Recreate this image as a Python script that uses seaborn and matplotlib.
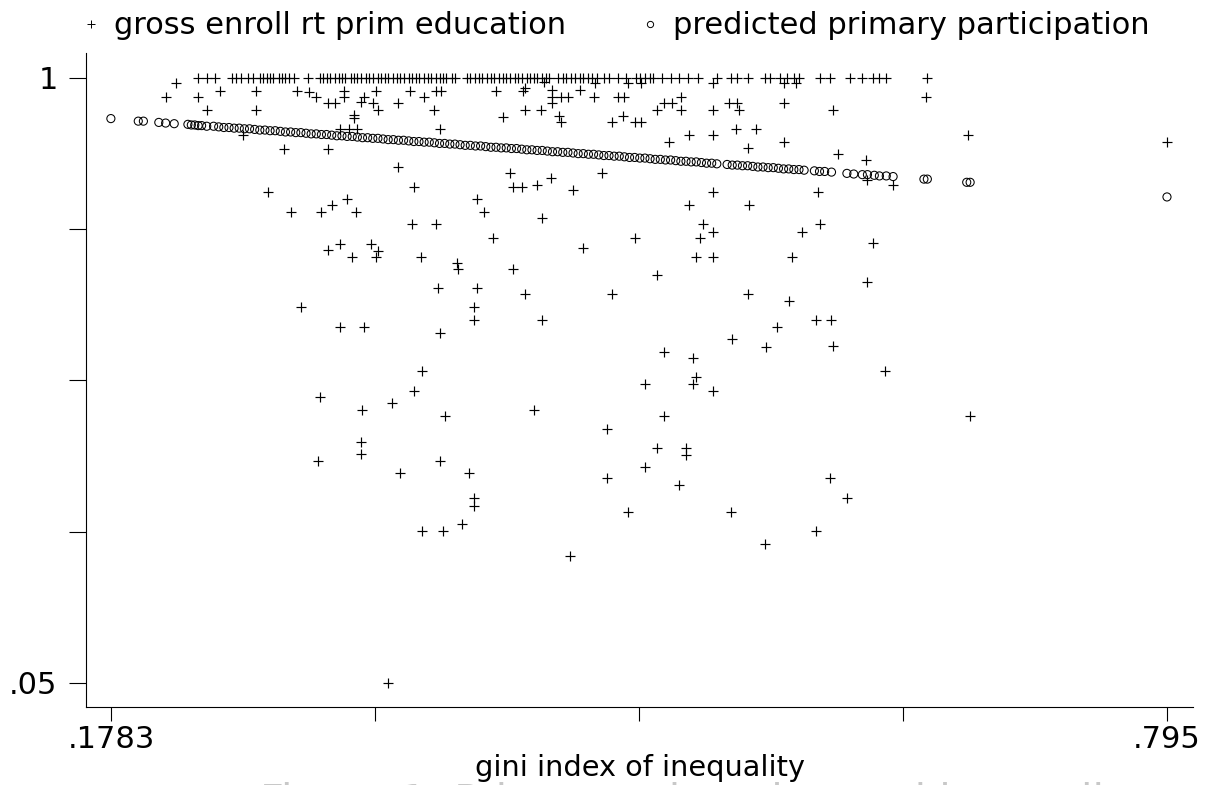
import matplotlib
matplotlib.use('Agg')
import matplotlib.pyplot as plt
from matplotlib.lines import Line2D
import pandas as pd
import seaborn as sns

# gross enrollment rate in primary education (share), below the ceiling
enroll_gini = [
    0.216, 0.210, 0.229, 0.234, 0.242, 0.263, 0.263, 0.287, 0.294, 0.298,
    0.305, 0.309, 0.314, 0.314, 0.320, 0.320, 0.312, 0.317, 0.322, 0.326,
    0.324, 0.333, 0.331, 0.334, 0.346, 0.353, 0.361, 0.368, 0.371, 0.367,
    0.370, 0.403, 0.407, 0.419, 0.420, 0.255, 0.279, 0.305, 0.346, 0.355,
    0.411, 0.413, 0.418, 0.270, 0.283, 0.301, 0.307, 0.316, 0.321, 0.354,
    0.368, 0.392, 0.396, 0.401, 0.305, 0.312, 0.330, 0.334, 0.420, 0.431,
    0.436, 0.436, 0.441, 0.445, 0.436, 0.452, 0.461, 0.460, 0.474, 0.478,
    0.480, 0.488, 0.501, 0.506, 0.511, 0.497, 0.511, 0.530, 0.530, 0.539,
    0.544, 0.545, 0.571, 0.578, 0.571, 0.600, 0.654, 0.429, 0.440, 0.441,
    0.471, 0.477, 0.484, 0.488, 0.504, 0.516, 0.530, 0.543, 0.555, 0.550,
    0.571, 0.603, 0.619, 0.679, 0.620, 0.635, 0.427, 0.435, 0.448, 0.465,
    0.530, 0.516, 0.551, 0.591, 0.430, 0.524, 0.530, 0.522, 0.484, 0.454,
    0.582, 0.592, 0.623, 0.795,
    0.319, 0.333, 0.359, 0.380, 0.381, 0.413, 0.369, 0.392, 0.420, 0.471,
    0.289, 0.390, 0.390, 0.430, 0.312, 0.326, 0.370, 0.360, 0.355, 0.300,
    0.325, 0.342, 0.373, 0.425, 0.468, 0.324, 0.324, 0.299, 0.370, 0.347,
    0.387, 0.468, 0.390, 0.390, 0.480, 0.383, 0.360, 0.372, 0.446,
    0.520, 0.530, 0.576, 0.497, 0.620, 0.550, 0.574, 0.567, 0.590, 0.599,
    0.541, 0.561, 0.600, 0.501, 0.518, 0.630, 0.490, 0.520, 0.518, 0.530,
    0.501, 0.680, 0.497, 0.514, 0.514, 0.490, 0.510, 0.598, 0.608, 0.540,
    0.590, 0.560, 0.340,
]
enroll_rate = [
    0.992, 0.970, 0.970, 0.950, 0.980, 0.980, 0.950, 0.980, 0.977, 0.970,
    0.961, 0.961, 0.980, 0.970, 0.942, 0.937, 0.920, 0.920, 0.920, 0.970,
    0.962, 0.980, 0.961, 0.950, 0.961, 0.980, 0.970, 0.980, 0.980, 0.950,
    0.920, 0.980, 0.939, 0.980, 0.950, 0.911, 0.889, 0.889, 0.860, 0.829,
    0.851, 0.829, 0.829, 0.820, 0.790, 0.790, 0.801, 0.810, 0.790, 0.771,
    0.771, 0.810, 0.790, 0.749, 0.730, 0.739, 0.739, 0.728, 0.984, 0.994,
    0.981, 0.970, 0.970, 0.970, 0.961, 0.981, 0.992, 0.970, 0.970, 0.970,
    0.992, 0.992, 0.961, 0.961, 0.970, 0.950, 0.950, 0.992, 0.950, 0.961,
    0.961, 0.950, 0.992, 0.992, 0.961, 0.950, 0.970, 0.950, 0.940, 0.931,
    0.931, 0.940, 0.931, 0.931, 0.900, 0.911, 0.911, 0.920, 0.920, 0.890,
    0.900, 0.881, 0.871, 0.911, 0.840, 0.831, 0.831, 0.842, 0.824, 0.851,
    0.820, 0.801, 0.801, 0.820, 0.780, 0.771, 0.758, 0.749, 0.749, 0.733,
    0.758, 0.771, 0.741, 0.900,
    0.719, 0.719, 0.719, 0.710, 0.700, 0.700, 0.670, 0.670, 0.661, 0.661,
    0.641, 0.641, 0.620, 0.620, 0.609, 0.609, 0.600, 0.540, 0.509, 0.499,
    0.479, 0.490, 0.469, 0.479, 0.449, 0.429, 0.410, 0.399, 0.399, 0.380,
    0.380, 0.371, 0.341, 0.328, 0.319, 0.300, 0.289, 0.289, 0.250,
    0.719, 0.719, 0.719, 0.691, 0.680, 0.661, 0.650, 0.609, 0.620, 0.620,
    0.590, 0.578, 0.579, 0.570, 0.560, 0.540, 0.520, 0.531, 0.520, 0.509,
    0.469, 0.469, 0.419, 0.419, 0.408, 0.389, 0.360, 0.371, 0.341, 0.319,
    0.289, 0.268, 0.050,
]

# countries sitting at the ceiling (rate = 1)
ceiling_gini = [
    0.229, 0.234, 0.239, 0.249, 0.251, 0.254, 0.258, 0.261,
    0.265, 0.267, 0.269, 0.271, 0.273, 0.276, 0.278, 0.280, 0.282, 0.285,
    0.293, 0.300, 0.302, 0.304, 0.306, 0.309, 0.311, 0.313, 0.315, 0.318,
    0.320, 0.322, 0.324, 0.327, 0.329, 0.331, 0.334, 0.336, 0.338, 0.340,
    0.343, 0.345, 0.347, 0.349, 0.352, 0.354, 0.356, 0.358, 0.361, 0.363,
    0.365, 0.368, 0.370, 0.372, 0.374, 0.377, 0.379,
    0.386, 0.388, 0.391, 0.393, 0.395, 0.398, 0.400, 0.402, 0.405, 0.407,
    0.409, 0.411, 0.414, 0.416, 0.418, 0.421, 0.423, 0.425, 0.427, 0.430,
    0.432, 0.434, 0.439, 0.442, 0.444, 0.447, 0.449, 0.452, 0.454, 0.457,
    0.459, 0.462, 0.466, 0.469, 0.474, 0.479, 0.485, 0.487, 0.490, 0.493,
    0.495, 0.500, 0.505, 0.510, 0.515, 0.521, 0.532, 0.540, 0.544, 0.550,
    0.560, 0.563, 0.569, 0.573, 0.577, 0.580, 0.592, 0.598,
    0.610, 0.617, 0.623, 0.627, 0.631, 0.655,
]

# predicted primary participation
pred_gini = [
    0.178, 0.194, 0.197, 0.206, 0.210, 0.215, 0.223, 0.225, 0.227, 0.229,
    0.231, 0.234, 0.238, 0.241, 0.244, 0.247, 0.250, 0.253, 0.256, 0.259,
    0.262, 0.265, 0.268, 0.271, 0.274, 0.277, 0.280, 0.283, 0.286, 0.289,
    0.292, 0.295, 0.298, 0.301, 0.304, 0.307, 0.310, 0.313, 0.316, 0.319,
    0.322, 0.325, 0.328, 0.331, 0.334, 0.337, 0.340, 0.343, 0.346, 0.349,
    0.352, 0.355, 0.358, 0.361, 0.364, 0.367, 0.370, 0.373, 0.376, 0.379,
    0.382, 0.385, 0.388, 0.391, 0.394, 0.397, 0.400, 0.403, 0.406, 0.409,
    0.412, 0.415, 0.418, 0.421, 0.424, 0.427, 0.430, 0.433, 0.436, 0.439,
    0.442, 0.445, 0.448, 0.451, 0.454, 0.457, 0.460, 0.463, 0.466, 0.469,
    0.472, 0.475, 0.478, 0.481, 0.484, 0.487, 0.490, 0.493, 0.496, 0.499,
    0.502, 0.505, 0.508, 0.511, 0.514, 0.517, 0.520, 0.523, 0.526, 0.529,
    0.532, 0.538, 0.541, 0.544, 0.547, 0.550, 0.553, 0.556, 0.559, 0.562,
    0.565, 0.568, 0.571, 0.574, 0.577, 0.580, 0.583, 0.589, 0.592, 0.595,
    0.599, 0.608, 0.612, 0.617, 0.620, 0.624, 0.627, 0.631, 0.635, 0.653,
    0.655, 0.678, 0.680, 0.795,
]
pred_rate = [
    0.936, 0.932, 0.932, 0.930, 0.929, 0.928, 0.927, 0.926, 0.926, 0.925,
    0.925, 0.924, 0.924, 0.923, 0.922, 0.922, 0.921, 0.921, 0.920, 0.920,
    0.919, 0.918, 0.918, 0.917, 0.917, 0.916, 0.915, 0.915, 0.914, 0.914,
    0.913, 0.912, 0.912, 0.911, 0.911, 0.910, 0.909, 0.909, 0.908, 0.908,
    0.907, 0.906, 0.906, 0.905, 0.905, 0.904, 0.903, 0.903, 0.902, 0.902,
    0.901, 0.900, 0.900, 0.899, 0.899, 0.898, 0.897, 0.897, 0.896, 0.896,
    0.895, 0.894, 0.894, 0.893, 0.893, 0.892, 0.891, 0.891, 0.890, 0.890,
    0.889, 0.889, 0.888, 0.887, 0.887, 0.886, 0.886, 0.885, 0.884, 0.884,
    0.883, 0.883, 0.882, 0.881, 0.881, 0.880, 0.880, 0.879, 0.878, 0.878,
    0.877, 0.877, 0.876, 0.875, 0.875, 0.874, 0.874, 0.873, 0.872, 0.872,
    0.871, 0.871, 0.870, 0.869, 0.869, 0.868, 0.868, 0.867, 0.866, 0.866,
    0.865, 0.864, 0.863, 0.863, 0.862, 0.862, 0.861, 0.860, 0.860, 0.859,
    0.859, 0.858, 0.857, 0.857, 0.856, 0.856, 0.855, 0.854, 0.853, 0.853,
    0.852, 0.850, 0.849, 0.848, 0.848, 0.847, 0.846, 0.846, 0.845, 0.841,
    0.841, 0.836, 0.836, 0.813,
]

x_ticks = [0.1783, 0.3325, 0.4867, 0.6408, 0.795]
x_tick_labels = ['.1783', '', '', '', '.795']
y_ticks = [1, 0.7625, 0.525, 0.2875, 0.05]
y_tick_labels = ['1', '', '', '', '.05']

sns.set_style('white')
plt.rcParams['font.family'] = ['DejaVu Sans']
plt.rcParams['text.color'] = 'black'
plt.rcParams['axes.labelcolor'] = 'black'

enroll = pd.DataFrame({
    'gini': enroll_gini + ceiling_gini,
    'rate': enroll_rate + [1.0] * len(ceiling_gini),
})
pred = pd.DataFrame({'gini': pred_gini, 'rate': pred_rate})

fig = plt.figure(figsize=(12.07, 7.85), dpi=100)
ax = fig.add_axes([0.0713, 0.0994, 0.9171, 0.8331])

sns.scatterplot(data=enroll, x='gini', y='rate', marker='+', s=62,
                color='black', linewidth=0.85, ax=ax, legend=False)
sns.scatterplot(data=pred, x='gini', y='rate', marker='o', s=34,
                color='black', edgecolor='black', linewidth=0.75,
                ax=ax, legend=False)
ax.collections[-1].set_facecolor('none')

ax.set_xlim(0.1635, 0.8102)
ax.set_ylim(0.0123, 1.039)
ax.set_xticks(x_ticks, labels=x_tick_labels)
ax.set_yticks(y_ticks, labels=y_tick_labels)
ax.tick_params(axis='y', left=True, length=12.5, width=0.8, pad=8,
               labelsize=22, colors='black')
ax.tick_params(axis='x', bottom=True, length=10, width=0.8, pad=3,
               labelsize=22, colors='black')
sns.despine(ax=ax)
for side in ['left', 'bottom']:
    ax.spines[side].set_color('black')
    ax.spines[side].set_linewidth(0.8)
ax.set_xlabel('gini index of inequality', fontsize=20.7, labelpad=0,
              color='black')
ax.set_ylabel('')

handles = [
    Line2D([], [], marker='+', ls='none', color='black',
           markersize=6, markeredgewidth=0.7),
    Line2D([], [], marker='o', ls='none', markerfacecolor='none',
           markeredgecolor='black', markersize=4.5, markeredgewidth=0.7),
]
fig.legend(handles, ['gross enroll rt prim education',
                     'predicted primary participation'],
           loc='center', bbox_to_anchor=(0.5100, 0.967), ncol=2,
           frameon=False, fontsize=22, handlelength=0.6,
           handletextpad=0.45, columnspacing=2.45, labelcolor='black')

# caption of the figure, cut off by the lower edge
fig.text(0.215, 3 / 785, 'Figure 1: Primary education and inequality',
         fontsize=30, color='#c8c8c8', va='top', ha='left')

fig.savefig('out.png', dpi=100)
